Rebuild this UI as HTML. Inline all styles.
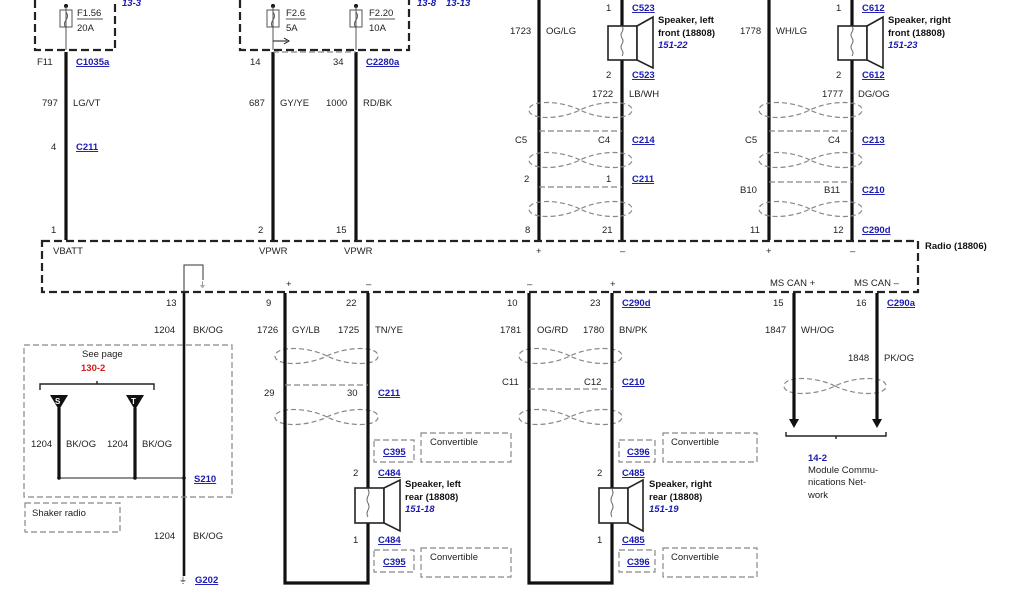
<!DOCTYPE html>
<html><head><meta charset="utf-8"><style>
html,body{margin:0;padding:0;background:#fff;}
svg{display:block;font-family:"Liberation Sans",Arial,sans-serif;}
.t{font-size:9.5px;fill:#222;}
.b{font-size:9.5px;fill:#1a1ab0;font-weight:bold;text-decoration:underline;}
.bi{font-size:9.5px;fill:#1a1ab0;font-weight:bold;font-style:italic;}
.k{font-size:9.5px;fill:#111;font-weight:bold;}
.w{stroke:#111;stroke-width:3.2;fill:none;}
.tw{stroke:#888;stroke-width:1.2;fill:none;stroke-dasharray:5,3;}
.d{stroke:#888;stroke-width:1.2;fill:none;stroke-dasharray:6,3;}
.bd{stroke:#222;stroke-width:2.2;fill:none;stroke-dasharray:8,4;}
.sp{stroke:#222;stroke-width:1.6;fill:#fff;}
</style></head><body>
<svg width="1024" height="600" viewBox="0 0 1024 600">
<!-- top fuse boxes -->
<path class="bd" d="M35,0 V50 H115 V0"/>
<path class="bd" d="M240,0 V50 H409 V0"/>
<text class="bi" x="122" y="6">13-3</text>
<text class="bi" x="417" y="6">13-8</text><text class="bi" x="446" y="6">13-13</text>
<circle cx="66" cy="6" r="2" fill="#111"/><rect x="60" y="10" width="12" height="17" fill="none" stroke="#555"/><path d="M66,6 V50 M66,12 q3,4 0,8 q-3,4 0,8" stroke="#555" fill="none"/>
<text class="t" x="77" y="16">F1.56</text><line x1="77" y1="19" x2="103" y2="19" stroke="#555"/><text class="t" x="77" y="31">20A</text>
<circle cx="273" cy="6" r="2" fill="#111"/><rect x="267" y="10" width="12" height="17" fill="none" stroke="#555"/><path d="M273,6 V50 M273,12 q3,4 0,8 q-3,4 0,8" stroke="#555" fill="none"/>
<text class="t" x="286" y="16">F2.6</text><line x1="286" y1="19" x2="306" y2="19" stroke="#555"/><text class="t" x="286" y="31">5A</text>
<path d="M273,41 H287" stroke="#111"/><path d="M284,38 L289,41 L284,44" stroke="#111" fill="none"/>
<circle cx="356" cy="6" r="2" fill="#111"/><rect x="350" y="10" width="12" height="17" fill="none" stroke="#555"/><path d="M356,6 V50 M356,12 q3,4 0,8 q-3,4 0,8" stroke="#555" fill="none"/>
<text class="t" x="369" y="16">F2.20</text><line x1="369" y1="19" x2="395" y2="19" stroke="#555"/><text class="t" x="369" y="31">10A</text>
<line class="w" x1="66" y1="52" x2="66" y2="240"/>
<line class="w" x1="273" y1="52" x2="273" y2="240"/>
<line class="w" x1="356" y1="52" x2="356" y2="240"/>
<line class="d" x1="273" y1="52" x2="356" y2="52"/>
<text class="t" x="37" y="65">F11</text><text class="b" x="76" y="65">C1035a</text>
<text class="t" x="250" y="65">14</text><text class="t" x="333" y="65">34</text><text class="b" x="366" y="65">C2280a</text>
<text class="t" x="42" y="106">797</text><text class="t" x="73" y="106">LG/VT</text>
<text class="t" x="249" y="106">687</text><text class="t" x="280" y="106">GY/YE</text>
<text class="t" x="326" y="106">1000</text><text class="t" x="363" y="106">RD/BK</text>
<text class="t" x="51" y="150">4</text><text class="b" x="76" y="150">C211</text>
<text class="t" x="51" y="233">1</text><text class="t" x="258" y="233">2</text><text class="t" x="336" y="233">15</text>
<line class="w" x1="539" y1="0" x2="539" y2="240"/>
<line class="w" x1="622" y1="0" x2="622" y2="240"/>
<line class="w" x1="769" y1="0" x2="769" y2="240"/>
<line class="w" x1="852" y1="0" x2="852" y2="240"/>
<rect class="sp" x="608" y="26" width="29" height="34"/><polygon class="sp" points="637,26 653,17 653,68 637,60"/>
<path d="M622,26 q2,3 0,6 q-2,3 0,6 q2,3 0,6 q-2,3 0,6 q2,3 0,6" stroke="#666" fill="none"/>
<rect class="sp" x="838" y="26" width="29" height="34"/><polygon class="sp" points="867,26 883,17 883,68 867,60"/>
<path d="M852,26 q2,3 0,6 q-2,3 0,6 q2,3 0,6 q-2,3 0,6 q2,3 0,6" stroke="#666" fill="none"/>
<text class="t" x="606" y="11">1</text><text class="b" x="632" y="11">C523</text>
<text class="k" x="658" y="23">Speaker, left</text><text class="k" x="658" y="36">front (18808)</text><text class="bi" x="658" y="48">151-22</text>
<text class="t" x="510" y="34">1723</text><text class="t" x="546" y="34">OG/LG</text>
<text class="t" x="606" y="78">2</text><text class="b" x="632" y="78">C523</text>
<text class="t" x="592" y="97">1722</text><text class="t" x="629" y="97">LB/WH</text>
<text class="t" x="836" y="11">1</text><text class="b" x="862" y="11">C612</text>
<text class="k" x="888" y="23">Speaker, right</text><text class="k" x="888" y="36">front (18808)</text><text class="bi" x="888" y="48">151-23</text>
<text class="t" x="740" y="34">1778</text><text class="t" x="776" y="34">WH/LG</text>
<text class="t" x="836" y="78">2</text><text class="b" x="862" y="78">C612</text>
<text class="t" x="822" y="97">1777</text><text class="t" x="858" y="97">DG/OG</text>
<line class="d" x1="539" y1="131" x2="622" y2="131"/><line class="d" x1="539" y1="187" x2="622" y2="187"/>
<line class="d" x1="769" y1="131" x2="852" y2="131"/><line class="d" x1="769" y1="182" x2="852" y2="182"/>
<text class="t" x="515" y="143">C5</text><text class="t" x="598" y="143">C4</text><text class="b" x="632" y="143">C214</text>
<text class="t" x="524" y="182">2</text><text class="t" x="606" y="182">1</text><text class="b" x="632" y="182">C211</text>
<text class="t" x="745" y="143">C5</text><text class="t" x="828" y="143">C4</text><text class="b" x="862" y="143">C213</text>
<text class="t" x="740" y="193">B10</text><text class="t" x="824" y="193">B11</text><text class="b" x="862" y="193">C210</text>
<text class="t" x="525" y="233">8</text><text class="t" x="602" y="233">21</text>
<text class="t" x="750" y="233">11</text><text class="t" x="833" y="233">12</text><text class="b" x="862" y="233">C290d</text>
<g>
<path class="tw" d="M580,110 C560,100 529,100 529,110 C529,120 560,120 580,110 C600,100 632,100 632,110 C632,120 600,120 580,110"/>
<path class="tw" d="M580,160 C560,150 529,150 529,160 C529,170 560,170 580,160 C600,150 632,150 632,160 C632,170 600,170 580,160"/>
<path class="tw" d="M580,209 C560,199 529,199 529,209 C529,219 560,219 580,209 C600,199 632,199 632,209 C632,219 600,219 580,209"/>
<path class="tw" d="M810,110 C790,100 759,100 759,110 C759,120 790,120 810,110 C830,100 862,100 862,110 C862,120 830,120 810,110"/>
<path class="tw" d="M810,160 C790,150 759,150 759,160 C759,170 790,170 810,160 C830,150 862,150 862,160 C862,170 830,170 810,160"/>
<path class="tw" d="M810,209 C790,199 759,199 759,209 C759,219 790,219 810,209 C830,199 862,199 862,209 C862,219 830,219 810,209"/>
<path class="tw" d="M327,356 C307,346 275,346 275,356 C275,366 307,366 327,356 C347,346 378,346 378,356 C378,366 347,366 327,356"/>
<path class="tw" d="M327,417 C307,407 275,407 275,417 C275,427 307,427 327,417 C347,407 378,407 378,417 C378,427 347,427 327,417"/>
<path class="tw" d="M570,356 C550,346 519,346 519,356 C519,366 550,366 570,356 C590,346 622,346 622,356 C622,366 590,366 570,356"/>
<path class="tw" d="M570,417 C550,407 519,407 519,417 C519,427 550,427 570,417 C590,407 622,407 622,417 C622,427 590,427 570,417"/>
<path class="tw" d="M835,386 C815,376 784,376 784,386 C784,396 815,396 835,386 C855,376 886,376 886,386 C886,396 855,396 835,386"/>
</g>
<path class="bd" d="M42,241 H918 V292 H42 Z"/>
<text class="k" x="925" y="249">Radio (18806)</text>
<text class="t" x="53" y="254">VBATT</text><text class="t" x="259" y="254">VPWR</text><text class="t" x="344" y="254">VPWR</text>
<text class="t" x="536" y="254">+</text><text class="t" x="620" y="254">–</text><text class="t" x="766" y="254">+</text><text class="t" x="850" y="254">–</text>
<path d="M184,292 V265 H203 V280" stroke="#333" fill="none"/><text class="t" x="199" y="287" style="font-size:7px">⏚</text>
<text class="t" x="286" y="287">+</text><text class="t" x="366" y="287">–</text><text class="t" x="527" y="287">–</text><text class="t" x="610" y="287">+</text>
<text class="t" x="770" y="286">MS CAN +</text><text class="t" x="854" y="286">MS CAN –</text>
<line class="w" x1="184" y1="293" x2="184" y2="576" style="stroke-width:2.6"/>
<text class="t" x="166" y="306">13</text><text class="t" x="154" y="333">1204</text><text class="t" x="193" y="333">BK/OG</text>
<text class="t" x="154" y="539">1204</text><text class="t" x="193" y="539">BK/OG</text>
<text class="t" x="179" y="583" style="font-size:8px">⏚</text><text class="b" x="195" y="583">G202</text>
<path class="w" d="M285,293 V583 H368 V293"/>
<path class="w" d="M529,293 V583 H612 V293"/>
<line class="w" x1="794" y1="293" x2="794" y2="420"/><polygon points="789,419 799,419 794,428" fill="#111"/>
<line class="w" x1="877" y1="293" x2="877" y2="420"/><polygon points="872,419 882,419 877,428" fill="#111"/>
<text class="t" x="266" y="306">9</text><text class="t" x="346" y="306">22</text>
<text class="t" x="257" y="333">1726</text><text class="t" x="292" y="333">GY/LB</text><text class="t" x="338" y="333">1725</text><text class="t" x="375" y="333">TN/YE</text>
<line class="d" x1="285" y1="385" x2="368" y2="385"/>
<text class="t" x="264" y="396">29</text><text class="t" x="347" y="396">30</text><text class="b" x="378" y="396">C211</text>
<text class="t" x="507" y="306">10</text><text class="t" x="590" y="306">23</text><text class="b" x="622" y="306">C290d</text>
<text class="t" x="500" y="333">1781</text><text class="t" x="537" y="333">OG/RD</text><text class="t" x="583" y="333">1780</text><text class="t" x="619" y="333">BN/PK</text>
<line class="d" x1="529" y1="389" x2="612" y2="389"/>
<text class="t" x="502" y="385">C11</text><text class="t" x="584" y="385">C12</text><text class="b" x="622" y="385">C210</text>
<text class="t" x="773" y="306">15</text><text class="t" x="856" y="306">16</text><text class="b" x="887" y="306">C290a</text>
<text class="t" x="765" y="333">1847</text><text class="t" x="801" y="333">WH/OG</text>
<text class="t" x="848" y="361">1848</text><text class="t" x="884" y="361">PK/OG</text>
<path d="M786,432 V436 H886 V432 M836,436 V439" stroke="#222" stroke-width="1.4" fill="none"/>
<text class="bi" x="808" y="461" style="font-style:normal">14-2</text>
<text class="t" x="808" y="473">Module Commu-</text><text class="t" x="808" y="485">nications Net-</text><text class="t" x="808" y="498">work</text>
<!-- rear speakers -->
<rect class="sp" x="355" y="488" width="29" height="35"/><polygon class="sp" points="384,488 400,480 400,531 384,523"/>
<path d="M368,489 q2,4 0,7 q-2,4 0,7 q2,4 0,7 q-2,4 0,7" stroke="#666" fill="none"/>
<rect class="sp" x="599" y="488" width="29" height="35"/><polygon class="sp" points="628,488 643,480 643,531 628,523"/>
<path d="M612,489 q2,4 0,7 q-2,4 0,7 q2,4 0,7 q-2,4 0,7" stroke="#666" fill="none"/>
<rect class="d" x="374" y="440" width="40" height="22"/><text class="b" x="383" y="455">C395</text>
<rect class="d" x="421" y="433" width="90" height="29"/><text class="t" x="430" y="445">Convertible</text>
<text class="t" x="353" y="476">2</text><text class="b" x="378" y="476">C484</text>
<text class="k" x="405" y="487">Speaker, left</text><text class="k" x="405" y="500">rear (18808)</text><text class="bi" x="405" y="512">151-18</text>
<text class="t" x="353" y="543">1</text><text class="b" x="378" y="543">C484</text>
<rect class="d" x="374" y="550" width="40" height="22"/><text class="b" x="383" y="565">C395</text>
<rect class="d" x="421" y="548" width="90" height="29"/><text class="t" x="430" y="560">Convertible</text>
<rect class="d" x="619" y="440" width="36" height="22"/><text class="b" x="627" y="455">C396</text>
<rect class="d" x="663" y="433" width="94" height="29"/><text class="t" x="671" y="445">Convertible</text>
<text class="t" x="597" y="476">2</text><text class="b" x="622" y="476">C485</text>
<text class="k" x="649" y="487">Speaker, right</text><text class="k" x="649" y="500">rear (18808)</text><text class="bi" x="649" y="512">151-19</text>
<text class="t" x="597" y="543">1</text><text class="b" x="622" y="543">C485</text>
<rect class="d" x="619" y="550" width="36" height="22"/><text class="b" x="627" y="565">C396</text>
<rect class="d" x="663" y="548" width="94" height="29"/><text class="t" x="671" y="560">Convertible</text>
<!-- shaker box -->
<rect class="d" x="24" y="345" width="208" height="152"/>
<text class="t" x="82" y="357">See page</text>
<text x="81" y="371" style="font-size:9.5px;fill:#d02020;font-weight:bold">130-2</text>
<path d="M40,390 V384 H154 V390 M97,384 V381" stroke="#222" stroke-width="1.4" fill="none"/>
<polygon points="50,395 68,395 59,410" fill="#111"/><text x="55" y="404" style="font-size:8px;fill:#fff;font-weight:bold">S</text>
<polygon points="126,395 144,395 135,410" fill="#111"/><text x="131" y="404" style="font-size:8px;fill:#fff;font-weight:bold">T</text>
<line class="w" x1="59" y1="408" x2="59" y2="478"/><line class="w" x1="135" y1="408" x2="135" y2="478"/>
<line x1="59" y1="478" x2="184" y2="478" stroke="#222" stroke-width="1"/>
<circle cx="59" cy="478" r="1.8" fill="#111"/><circle cx="135" cy="478" r="1.8" fill="#111"/><circle cx="184" cy="478" r="1.8" fill="#111"/>
<text class="t" x="31" y="447">1204</text><text class="t" x="66" y="447">BK/OG</text><text class="t" x="107" y="447">1204</text><text class="t" x="142" y="447">BK/OG</text>
<text class="b" x="194" y="482">S210</text>
<rect class="d" x="25" y="503" width="95" height="29"/><text class="t" x="32" y="516">Shaker radio</text>
</svg>
</body></html>
